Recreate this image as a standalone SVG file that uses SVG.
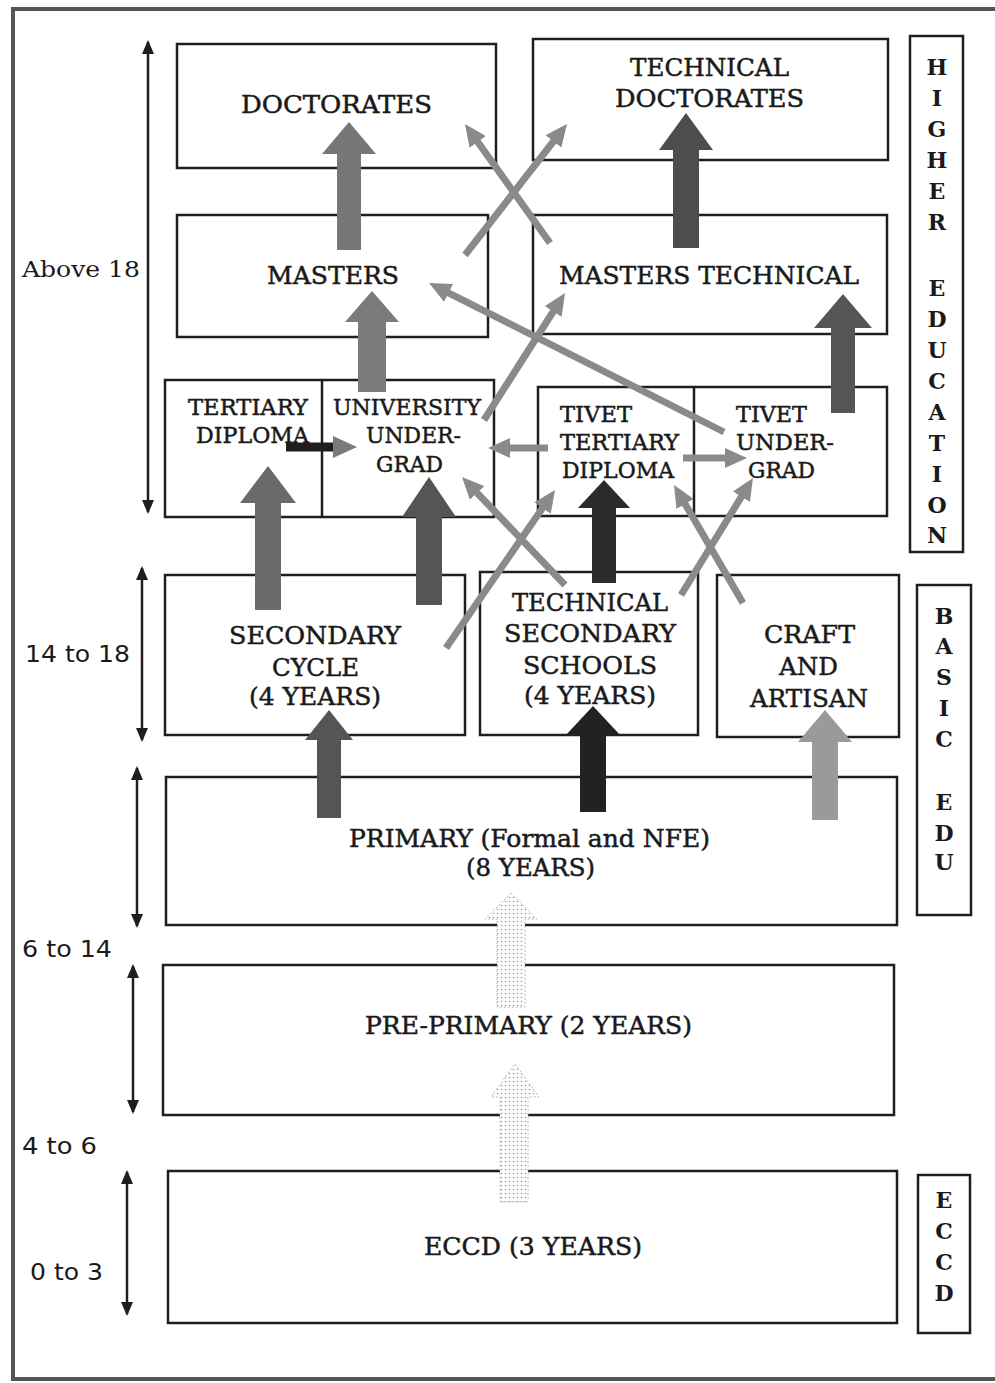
<svg xmlns="http://www.w3.org/2000/svg" width="995" height="1383" viewBox="0 0 995 1383">
<style>
.box{fill:none;stroke:#1e1e1e;stroke-width:2.5}
.lbl{font-family:"DejaVu Serif","Liberation Serif",serif;font-size:25px;fill:#1a1a1a;stroke:#1a1a1a;stroke-width:0.5;text-anchor:middle}
.sm{font-size:23px}
.age{font-family:"DejaVu Sans","Liberation Sans",sans-serif;font-size:23px;fill:#1a1a1a}
.agS{font-family:"DejaVu Serif","Liberation Serif",serif}
.side{font-family:"DejaVu Serif","Liberation Serif",serif;font-size:22px;font-weight:bold;fill:#1a1a1a;text-anchor:middle}
.thin{fill:none;stroke:#8a8a8a;stroke-width:7;marker-end:url(#hd)}
.dbl{fill:none;stroke:#1e1e1e;stroke-width:2.5;marker-start:url(#sh);marker-end:url(#sh)}
.dot{fill:url(#dots);stroke:#bbb;stroke-width:1;stroke-dasharray:2 2}
</style>
<defs>
<marker id="hd" viewBox="0 0 22 20" refX="3" refY="10" markerWidth="22" markerHeight="20" markerUnits="userSpaceOnUse" orient="auto"><path d="M0,0 L22,10 L0,20 Z" fill="#8a8a8a"/></marker>
<marker id="sh" viewBox="0 0 14 12" refX="12" refY="6" markerWidth="14" markerHeight="12" markerUnits="userSpaceOnUse" orient="auto-start-reverse"><path d="M0,0 L14,6 L0,12 Z" fill="#1e1e1e"/></marker>
<pattern id="dots" width="4" height="4" patternUnits="userSpaceOnUse"><rect width="4" height="4" fill="#fff"/><circle cx="1.5" cy="1.5" r="0.8" fill="#999"/></pattern>
</defs>
<rect width="995" height="1383" fill="#fff"/>
<g id="frame" fill="none" stroke="#555" stroke-width="4">
<path d="M995,9 L13,9 L13,1379 L995,1379"/>
</g>
<g id="doctorates"><rect class="box" x="177" y="44" width="319" height="124"/><text class="lbl" x="336.5" y="113" textLength="191" lengthAdjust="spacingAndGlyphs">DOCTORATES</text></g>
<g id="tech-doctorates"><rect class="box" x="533" y="39" width="355" height="121"/><text class="lbl" x="709.5" y="76" textLength="159" lengthAdjust="spacingAndGlyphs">TECHNICAL</text><text class="lbl" x="709.5" y="107" textLength="189" lengthAdjust="spacingAndGlyphs">DOCTORATES</text></g>
<g id="masters"><rect class="box" x="177" y="215" width="311" height="122"/><text class="lbl" x="333" y="284" textLength="132" lengthAdjust="spacingAndGlyphs">MASTERS</text></g>
<g id="masters-tech"><rect class="box" x="533" y="215" width="354" height="119"/><text class="lbl" x="709" y="284" textLength="300" lengthAdjust="spacingAndGlyphs">MASTERS TECHNICAL</text></g>
<g id="tertiary-univ"><rect class="box" x="165" y="380" width="329" height="137"/><line x1="322" y1="380" x2="322" y2="517" stroke="#1e1e1e" stroke-width="2.5"/>
<text class="lbl sm" x="248" y="415" textLength="120" lengthAdjust="spacingAndGlyphs">TERTIARY</text><text class="lbl sm" x="252.5" y="443" textLength="113" lengthAdjust="spacingAndGlyphs">DIPLOMA</text>
<text class="lbl sm" x="407" y="415" textLength="148" lengthAdjust="spacingAndGlyphs">UNIVERSITY</text><text class="lbl sm" x="413.5" y="443" textLength="95" lengthAdjust="spacingAndGlyphs">UNDER-</text><text class="lbl sm" x="409.5" y="472" textLength="67" lengthAdjust="spacingAndGlyphs">GRAD</text></g>
<g id="tivet"><rect class="box" x="538" y="387" width="349" height="129"/><line x1="694" y1="387" x2="694" y2="516" stroke="#1e1e1e" stroke-width="2.5"/>
<text class="lbl sm" x="596" y="422" textLength="72" lengthAdjust="spacingAndGlyphs">TIVET</text><text class="lbl sm" x="619.5" y="450" textLength="119" lengthAdjust="spacingAndGlyphs">TERTIARY</text><text class="lbl sm" x="618" y="478" textLength="112" lengthAdjust="spacingAndGlyphs">DIPLOMA</text>
<text class="lbl sm" x="771.5" y="422" textLength="71" lengthAdjust="spacingAndGlyphs">TIVET</text><text class="lbl sm" x="785" y="450" textLength="98" lengthAdjust="spacingAndGlyphs">UNDER-</text><text class="lbl sm" x="781.5" y="478" textLength="67" lengthAdjust="spacingAndGlyphs">GRAD</text></g>
<g id="secondary"><rect class="box" x="165" y="575" width="300" height="160"/><text class="lbl" x="315" y="644" textLength="172" lengthAdjust="spacingAndGlyphs">SECONDARY</text><text class="lbl" x="315.5" y="676" textLength="87" lengthAdjust="spacingAndGlyphs">CYCLE</text><text class="lbl" x="315" y="705" textLength="132" lengthAdjust="spacingAndGlyphs">(4 YEARS)</text></g>
<g id="tech-secondary"><rect class="box" x="480" y="572" width="218" height="163"/><text class="lbl" x="590" y="611" textLength="156" lengthAdjust="spacingAndGlyphs">TECHNICAL</text><text class="lbl" x="590" y="642" textLength="172" lengthAdjust="spacingAndGlyphs">SECONDARY</text><text class="lbl" x="590" y="674" textLength="134" lengthAdjust="spacingAndGlyphs">SCHOOLS</text><text class="lbl" x="590" y="704" textLength="132" lengthAdjust="spacingAndGlyphs">(4 YEARS)</text></g>
<g id="craft"><rect class="box" x="717" y="575" width="182" height="162"/><text class="lbl" x="809.5" y="643" textLength="91" lengthAdjust="spacingAndGlyphs">CRAFT</text><text class="lbl" x="808.5" y="675" textLength="59" lengthAdjust="spacingAndGlyphs">AND</text><text class="lbl" x="809" y="707" textLength="118" lengthAdjust="spacingAndGlyphs">ARTISAN</text></g>
<g id="primary"><rect class="box" x="166" y="777" width="731" height="148"/><text class="lbl" x="529.5" y="847" textLength="361" lengthAdjust="spacingAndGlyphs">PRIMARY (Formal and NFE)</text><text class="lbl" x="530.5" y="876" textLength="129" lengthAdjust="spacingAndGlyphs">(8 YEARS)</text></g>
<g id="pre-primary"><rect class="box" x="163" y="965" width="731" height="150"/><text class="lbl" x="528.5" y="1034" textLength="327" lengthAdjust="spacingAndGlyphs">PRE-PRIMARY (2 YEARS)</text></g>
<g id="eccd"><rect class="box" x="168" y="1171" width="729" height="152"/><text class="lbl" x="533" y="1255" textLength="218" lengthAdjust="spacingAndGlyphs">ECCD (3 YEARS)</text></g>
<g id="side-higher"><rect class="box" x="910" y="36" width="53" height="516"/>
<text class="side" x="937" y="75">H</text><text class="side" x="937" y="106">I</text><text class="side" x="937" y="137">G</text><text class="side" x="937" y="168">H</text><text class="side" x="937" y="199">E</text><text class="side" x="937" y="230">R</text>
<text class="side" x="937" y="296">E</text><text class="side" x="937" y="327">D</text><text class="side" x="937" y="358">U</text><text class="side" x="937" y="389">C</text><text class="side" x="937" y="420">A</text><text class="side" x="937" y="451">T</text><text class="side" x="937" y="482">I</text><text class="side" x="937" y="513">O</text><text class="side" x="937" y="543">N</text></g>
<g id="side-basic"><rect class="box" x="917" y="585" width="54" height="330"/>
<text class="side" x="944" y="624">B</text><text class="side" x="944" y="654">A</text><text class="side" x="944" y="685">S</text><text class="side" x="944" y="716">I</text><text class="side" x="944" y="747">C</text>
<text class="side" x="944" y="810">E</text><text class="side" x="944" y="841">D</text><text class="side" x="944" y="870">U</text></g>
<g id="side-eccd"><rect class="box" x="918" y="1175" width="52" height="158"/>
<text class="side" x="944" y="1208">E</text><text class="side" x="944" y="1239">C</text><text class="side" x="944" y="1270">C</text><text class="side" x="944" y="1301">D</text></g>
<g id="ages">
<text class="age agS" x="22" y="277" textLength="118" lengthAdjust="spacingAndGlyphs">Above 18</text>
<text class="age" x="25" y="662" textLength="105" lengthAdjust="spacingAndGlyphs">14 to 18</text>
<text class="age" x="22" y="957" textLength="90" lengthAdjust="spacingAndGlyphs">6 to 14</text>
<text class="age" x="22" y="1154" textLength="75" lengthAdjust="spacingAndGlyphs">4 to 6</text>
<text class="age" x="30" y="1280" textLength="73" lengthAdjust="spacingAndGlyphs">0 to 3</text>
</g>
<g id="connectors">
<line class="dbl" x1="148" y1="42" x2="148" y2="512"/>
<line class="dbl" x1="142" y1="568" x2="142" y2="740"/>
<line class="dbl" x1="137" y1="768" x2="137" y2="926"/>
<line class="dbl" x1="133" y1="966" x2="133" y2="1112"/>
<line class="dbl" x1="127" y1="1172" x2="127" y2="1314"/>
<path fill="#777" d="M349,122 L376,154 L361,154 L361,250 L337,250 L337,154 L322,154 Z"/>
<path fill="#4d4d4d" d="M686,113 L713,150 L699,150 L699,248 L673,248 L673,150 L659,150 Z"/>
<path fill="#7a7a7a" d="M372,291 L399,322 L386,322 L386,392 L358,392 L358,322 L345,322 Z"/>
<path fill="#555" d="M843,294 L872,328 L855,328 L855,413 L831,413 L831,328 L814,328 Z"/>
<path fill="#6a6a6a" d="M268,466 L296,503 L281,503 L281,610 L255,610 L255,503 L240,503 Z"/>
<path fill="#555" d="M429,477 L456,517 L442,517 L442,605 L416,605 L416,517 L402,517 Z"/>
<path fill="#2b2b2b" d="M604,480 L630,508 L616,508 L616,583 L592,583 L592,508 L578,508 Z"/>
<path fill="#555" d="M329,710 L353,740 L341,740 L341,818 L317,818 L317,740 L305,740 Z"/>
<path fill="#222" d="M593,706 L621,736 L606,736 L606,812 L580,812 L580,736 L565,736 Z"/>
<path fill="#9a9a9a" d="M825,710 L852,742 L838,742 L838,820 L812,820 L812,742 L798,742 Z"/>
<path class="dot" d="M511,893 L537,919 L525,919 L525,1007 L497,1007 L497,919 L485,919 Z"/>
<path class="dot" d="M515,1064 L539,1097 L528,1097 L528,1202 L500,1202 L500,1097 L491,1097 Z"/>
<line class="thin" x1="465" y1="255" x2="555.3" y2="139"/>
<line class="thin" x1="550" y1="243" x2="476" y2="139.5"/>
<line class="thin" x1="724" y1="432" x2="446" y2="291.6"/>
<line class="thin" x1="484" y1="420" x2="554.8" y2="309"/>
<line x1="286" y1="447" x2="336" y2="447" stroke="#1e1e1e" stroke-width="9"/>
<path d="M333,436 L357,447 L333,458 Z" fill="#7a7a7a"/>
<line class="thin" x1="548" y1="448" x2="507" y2="448"/>
<line class="thin" x1="683" y1="458" x2="728" y2="458"/>
<line class="thin" x1="446" y1="648" x2="544.2" y2="505.6"/>
<line class="thin" x1="565" y1="585" x2="475.1" y2="490.8"/>
<line class="thin" x1="681" y1="595" x2="743" y2="494.2"/>
<line class="thin" x1="743" y1="603" x2="683.6" y2="501.4"/>
</g>
</svg>
